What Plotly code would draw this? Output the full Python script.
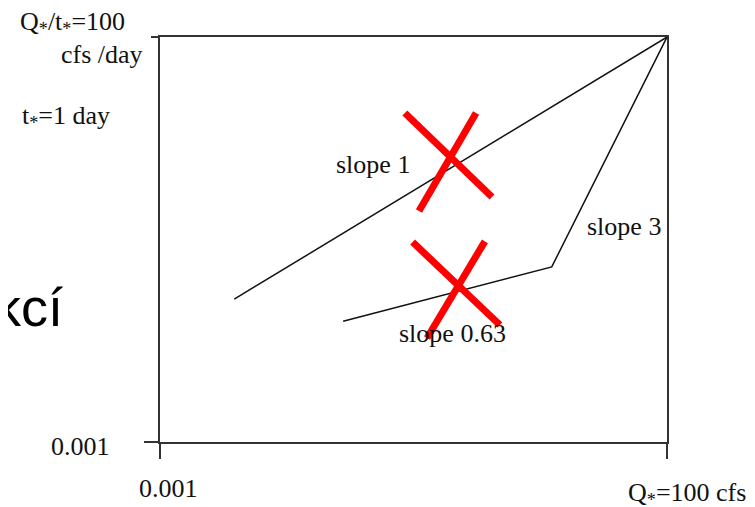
import plotly.graph_objects as go

# log-log sketch: Q* vs Q*/t*
slope1_x = [0.0054, 100]
slope1_y = [0.058, 100]

bent_x = [0.064, 7.3, 100]
bent_y = [0.031, 0.145, 100]

# red crosses drawn over the figure (two strokes each)
cross1_x = [0.26, 1.88, None, 1.31, 0.358]
cross1_y = [11.5, 1.06, None, 11.5, 0.71]
cross2_x = [0.31, 2.25, None, 1.6, 0.43]
cross2_y = [0.294, 0.0278, None, 0.30, 0.0192]

serif = "Liberation Serif, Times New Roman, serif"

fig = go.Figure()
fig.add_trace(go.Scatter(x=slope1_x, y=slope1_y, mode="lines",
                         line=dict(color="#111", width=1.5)))
fig.add_trace(go.Scatter(x=bent_x, y=bent_y, mode="lines",
                         line=dict(color="#111", width=1.5)))
for cx, cy in [(cross1_x, cross1_y), (cross2_x, cross2_y)]:
    fig.add_trace(go.Scatter(x=cx, y=cy, mode="lines",
                             line=dict(color="#ff0000", width=7)))

# text labels, positions in paper fractions
labels = [
    ("Q<sub>*</sub>/t<sub>*</sub>=100", -0.173, 1.034),
    ("cfs /day", -0.115, 0.958),
    ("t<sub>*</sub>=1 day", -0.185, 0.802),
    ("0.001", -0.157, -0.012),
    ("0.001", 0.016, -0.114),
    ("Q<sub>*</sub>=100 cfs", 1.04, -0.128),
    ("slope 1", 0.421, 0.684),
    ("slope 3", 0.916, 0.531),
    ("slope 0.63", 0.577, 0.269),
]
for txt, xp, yp in labels:
    fig.add_annotation(text=txt, x=xp, y=yp, xref="paper", yref="paper",
                       showarrow=False, xanchor="center", yanchor="middle",
                       font=dict(family=serif, size=26, color="#111"))

fig.add_annotation(text="kcí", x=-0.187, y=0.333, xref="paper", yref="paper",
                   showarrow=False, xanchor="right", yanchor="middle",
                   font=dict(family="Liberation Sans, Arial, sans-serif", size=54, color="#000"))

fig.update_xaxes(type="log", range=[-3, 2], showline=True, mirror=True,
                 linecolor="#333", linewidth=1.5, showgrid=False, zeroline=False,
                 tickvals=[0.001, 100], ticks="outside", ticklen=15,
                 tickcolor="#333", tickwidth=1.5, showticklabels=False)
fig.update_yaxes(type="log", range=[-3, 2], showline=True, mirror=True,
                 linecolor="#333", linewidth=1.5, showgrid=False, zeroline=False,
                 tickvals=[0.001], ticks="outside", ticklen=14,
                 tickcolor="#333", tickwidth=1.5, showticklabels=False,
                 minor=dict(tickvals=[100], ticks="outside", ticklen=7,
                            tickcolor="#333", tickwidth=1.5))

# page body adds an 8px offset, so the figure is a bit smaller than the window
fig.update_layout(width=747, height=499, showlegend=False,
                  margin=dict(l=152, r=88, t=29, b=65),
                  plot_bgcolor="white", paper_bgcolor="white")

fig.write_html("out.html")
